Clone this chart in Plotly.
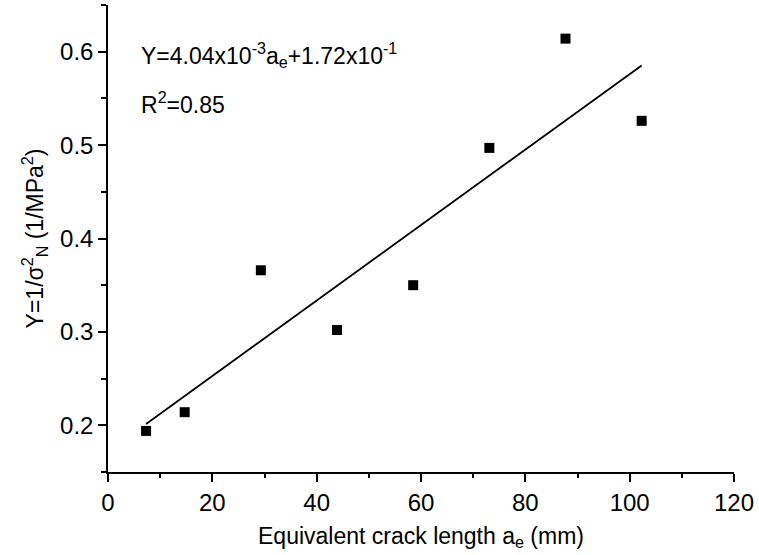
import plotly.graph_objects as go

# Data
crack_length = [7.3, 14.7, 29.3, 43.9, 58.5, 73.1, 87.7, 102.3]
inv_sigma_sq = [0.194, 0.214, 0.366, 0.302, 0.350, 0.497, 0.614, 0.526]
slope = 4.04e-3
intercept = 1.72e-1

x_tick_vals = [0, 20, 40, 60, 80, 100, 120]
y_tick_vals = [0.2, 0.3, 0.4, 0.5, 0.6]

fit_x = [min(crack_length), max(crack_length)]
fit_y = [slope * v + intercept for v in fit_x]

FONT = "Liberation Sans, Arial, sans-serif"
TXT = 23

fig = go.Figure()
fig.add_trace(go.Scatter(
    x=crack_length, y=inv_sigma_sq, mode="markers",
    marker=dict(symbol="square", size=10, color="black"),
    showlegend=False,
))
fig.add_trace(go.Scatter(
    x=fit_x, y=fit_y, mode="lines",
    line=dict(color="black", width=1.8),
    showlegend=False,
))

fig.add_annotation(
    x=6.0, y=0.597, xref="x", yref="y", xanchor="left", yanchor="middle",
    text="Y=4.04x10<sup>-3</sup>a<sub>e</sub>+1.72x10<sup>-1</sup>",
    showarrow=False, font=dict(family=FONT, size=TXT, color="black"),
)
fig.add_annotation(
    x=6.0, y=0.545, xref="x", yref="y", xanchor="left", yanchor="middle",
    text="R<sup>2</sup>=0.85",
    showarrow=False, font=dict(family=FONT, size=TXT, color="black"),
)

fig.update_layout(
    width=759, height=555,
    margin=dict(l=108, r=21, t=5, b=83),
    plot_bgcolor="white", paper_bgcolor="white",
    font=dict(family=FONT, size=TXT, color="black"),
)
fig.update_xaxes(
    range=[0, 120], tickvals=x_tick_vals,
    showgrid=False, zeroline=False,
    showline=True, linecolor="black", linewidth=1.5,
    ticks="outside", ticklen=8, tickwidth=1.5, tickcolor="black",
    minor=dict(ticks="outside", ticklen=4, tickwidth=1.5, tickcolor="black", dtick=10, showgrid=False),
    tickfont=dict(size=24),
    title=dict(text="Equivalent crack length a<sub>e</sub> (mm)", font=dict(size=TXT), standoff=13),
)
fig.update_yaxes(
    range=[0.15, 0.65], tickvals=y_tick_vals, tickformat=".1f",
    showgrid=False, zeroline=False,
    showline=True, linecolor="black", linewidth=1.5,
    ticks="outside", ticklen=8, tickwidth=1.5, tickcolor="black",
    minor=dict(ticks="outside", ticklen=5, tickwidth=1.5, tickcolor="black", dtick=0.05, showgrid=False),
    tickfont=dict(size=24),
    title=dict(text="Y=1/σ<sup>2</sup><sub>N</sub> (1/MPa<sup>2</sup>)", font=dict(size=TXT), standoff=10),
)

fig.write_html("out.html", config={"displayModeBar": False},
               post_script="document.body.style.margin='0';document.body.style.padding='0';")
